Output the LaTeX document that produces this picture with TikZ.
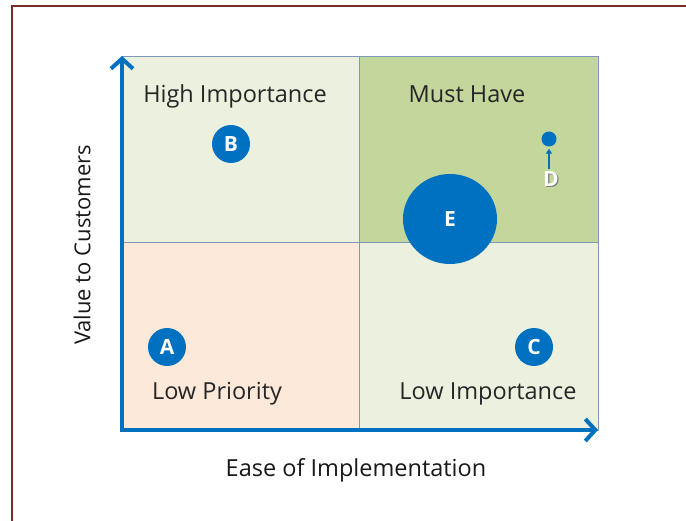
\documentclass[tikz,border=0pt]{standalone}
\usepackage{fontspec}
\setmainfont{Open Sans}
\usetikzlibrary{arrows.meta,shapes.geometric}
\definecolor{frame}{HTML}{772C2A}
\definecolor{axisblue}{HTML}{0070C0}
\definecolor{gridline}{HTML}{7F97B8}
\definecolor{palegreen}{HTML}{EBF1DE}
\definecolor{midgreen}{HTML}{C3D69B}
\definecolor{peach}{HTML}{FDE9D9}
\tikzset{
  quad/.style={draw=gridline, line width=0.8pt},
  qlabel/.style={font=\fontsize{23.5}{27}\selectfont, text=black!85, inner sep=0pt, anchor=base},
  axlabel/.style={font=\fontsize{23.5}{27}\selectfont, text=black!90, inner sep=0pt},
  letter/.style={text=white, font=\bfseries\fontsize{21}{25}\selectfont},
  dot/.style={circle, fill=axisblue, inner sep=0pt, letter},
  axis/.style={draw=axisblue, line width=4pt,
    -{Straight Barb[length=10pt, width=22pt, line width=4pt]}},
}
\begin{document}
\begin{tikzpicture}[x=1pt, y=-1pt]
  \useasboundingbox (0,0) rectangle (686,521);
  \fill[white] (0,0) rectangle (686,521);
  % outer frame edges
  \draw[frame, line width=2.5pt] (12,521) -- (12,6) -- (686,6);
  % quadrants
  \filldraw[quad, fill=palegreen] (122,56) rectangle (359,242);
  \filldraw[quad, fill=midgreen] (359,56) rectangle (598,242);
  \filldraw[quad, fill=peach] (122,242) rectangle (359,430);
  \filldraw[quad, fill=palegreen] (359,242) rectangle (598,430);
  % quadrant titles
  \node[qlabel] (hi) at (235,103) {High Importance};
  \node[qlabel] (mh) at (467,103) {Must Have};
  \node[qlabel] (lp) at (217,400) {Low Priority};
  \node[qlabel] (li) at (488,400) {Low Importance};
  % axes
  \coordinate (ybase) at (122,432);
  \coordinate (xbase) at (120,430);
  \coordinate (ytip) at (122,56);
  \coordinate (xtip) at (598,430);
  \draw[axis] (ybase) -- (ytip);
  \draw[axis] (xbase) -- (xtip);
  \node[axlabel, anchor=base] (xl) at (356,476) {Ease of Implementation};
  \node[axlabel, font=\fontsize{22}{26}\selectfont, rotate=90] (yl) at (82,245) {Value to Customers};
  % items
  \node[dot, minimum size=38pt] (B) at (231,144) {B};
  \node[dot, minimum size=38pt] (A) at (167,347) {A};
  \node[dot, minimum size=38pt] (C) at (534,347) {C};
  \node[ellipse, fill=axisblue, minimum width=94pt, minimum height=90pt, inner sep=0pt,
        letter] (E) at (450,219) {E};
  \node[dot, minimum size=15pt] (D) at (549,139) {};
  \node[letter, text=black!50, inner sep=0pt] (Ds) at (552.2,180.2) {D};
  \node[letter, inner sep=0pt] (Dl) at (551,179) {D};
  \draw[axisblue, line width=1.2pt, -{Triangle[length=5pt, width=6pt]},
        shorten <=2pt, shorten >=2pt] (Dl.north -| D.south) -- (D.south);
\end{tikzpicture}
\end{document}
